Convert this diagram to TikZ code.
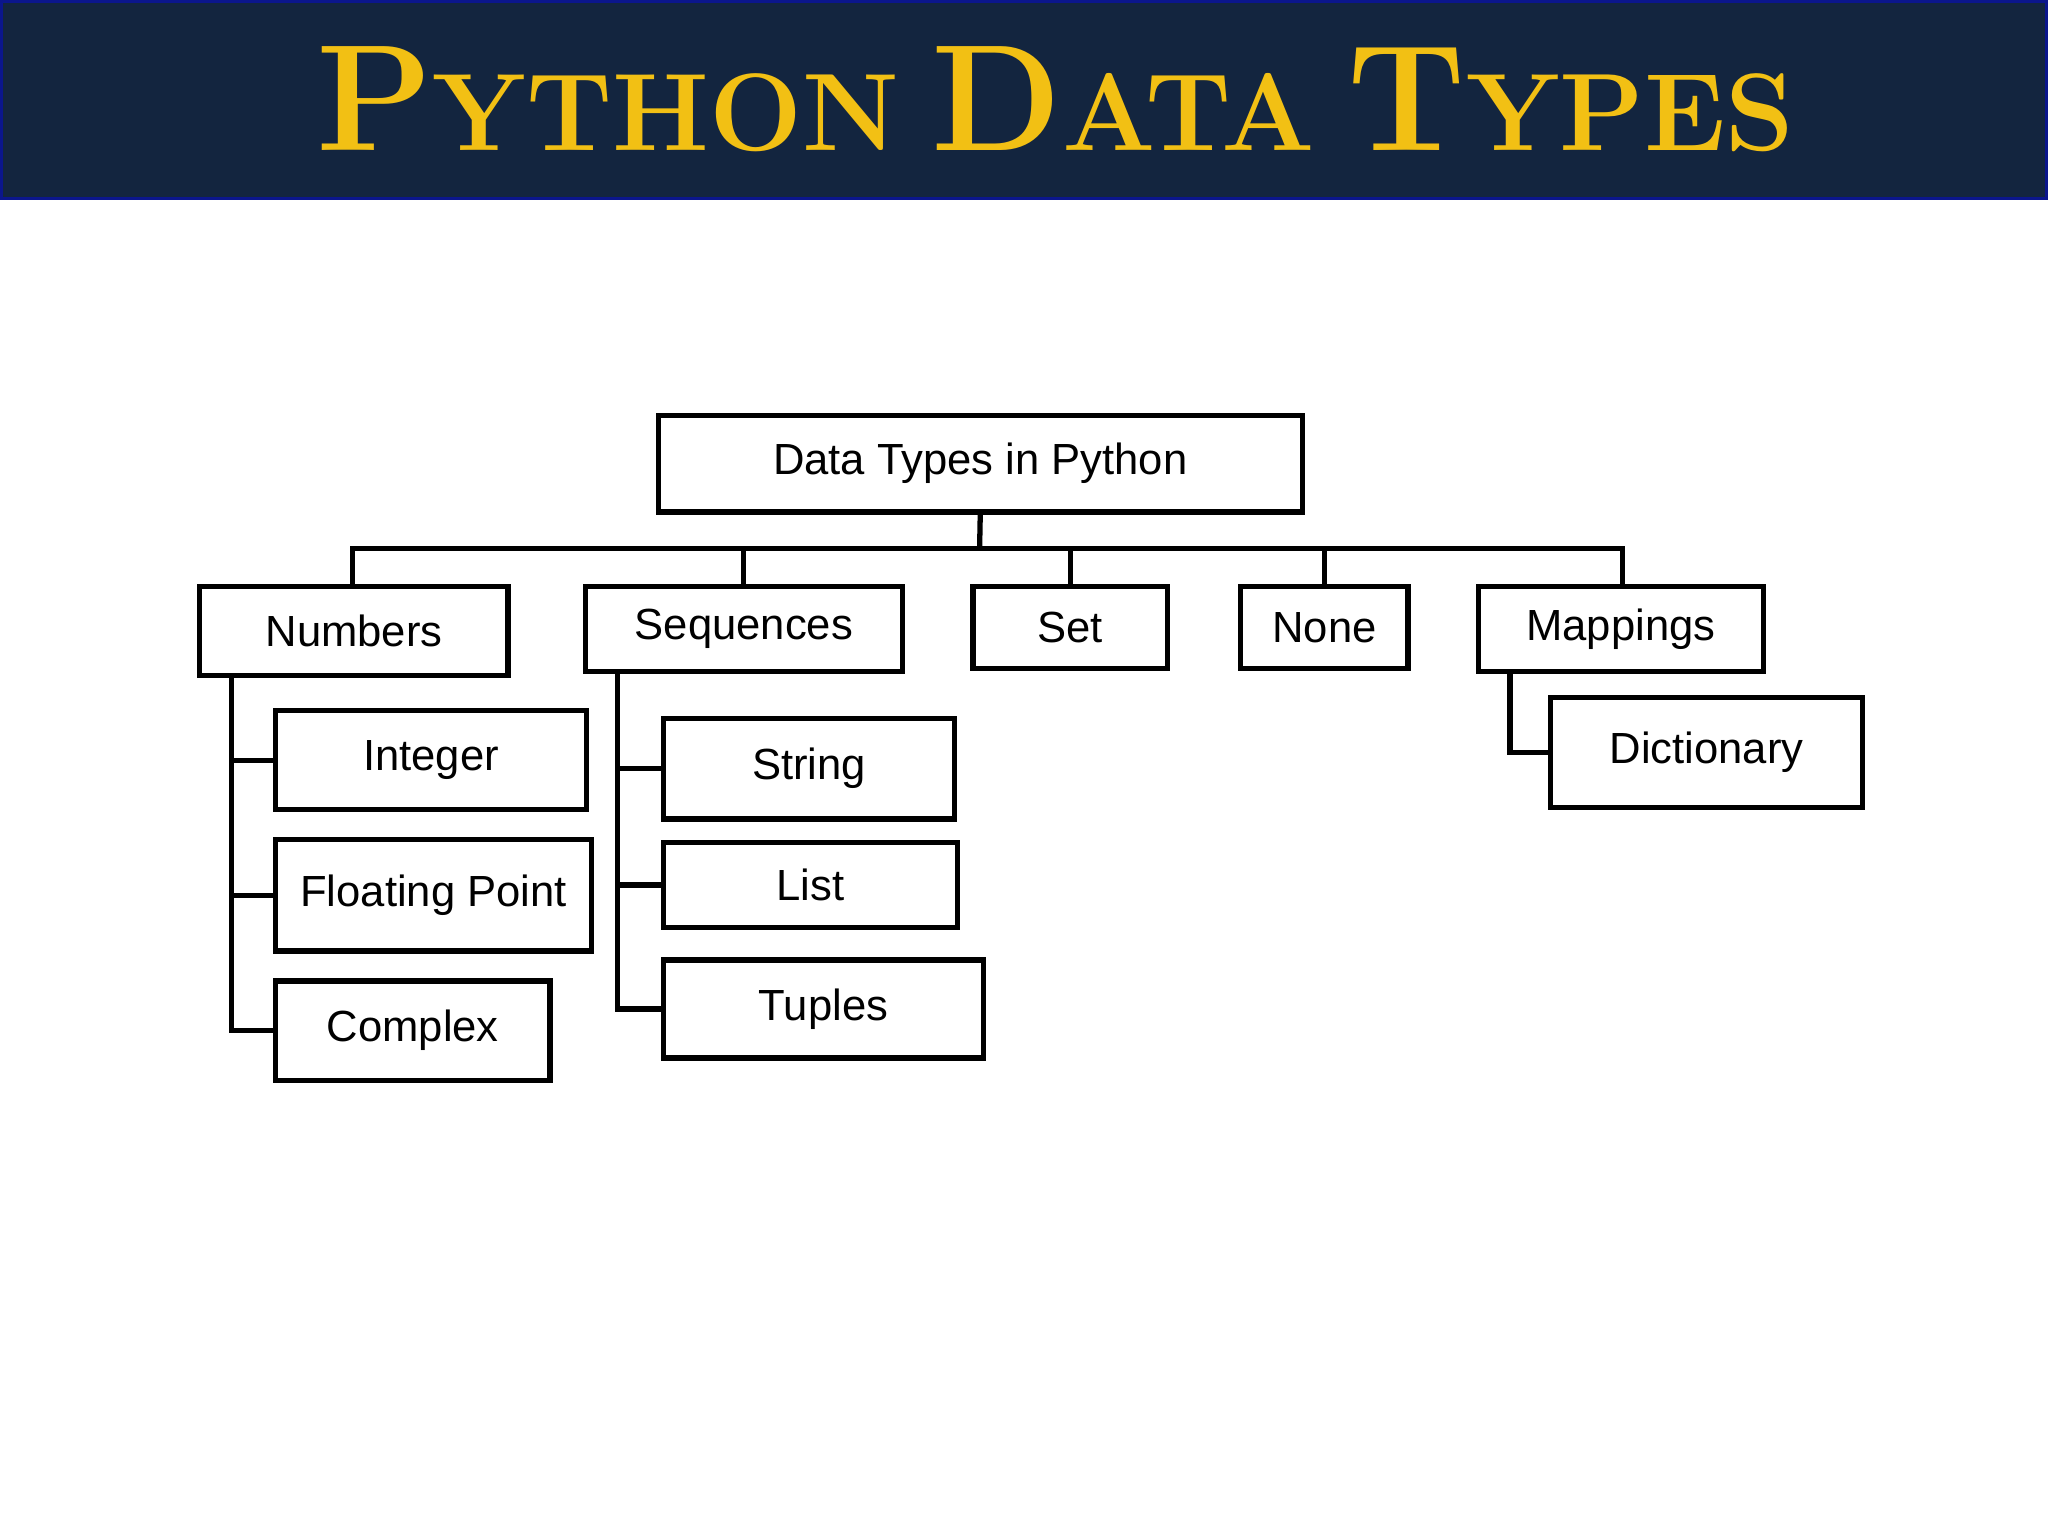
\documentclass[tikz,border=0pt]{standalone}
\usepackage{fontspec}
\setmainfont{Liberation Sans}
\newfontfamily\titlefont{Latin Modern Roman}
\definecolor{navy}{HTML}{13253F}
\definecolor{gold}{HTML}{F2C014}
\begin{document}
\begin{tikzpicture}[x=0.02cm,y=-0.02cm,
  box/.style={draw,line width=2.3pt,inner sep=0pt,font=\fontsize{19}{22}\selectfont},
  conn/.style={line width=2.3pt}]
\useasboundingbox (0,0) rectangle (1568,1176);
\fill[white] (0,0) rectangle (1568,1176);
\draw[fill=navy,draw=blue!40!navy,line width=1.5pt] (1,1) rectangle (1567,152);
\node (title) at (808,76) {\titlefont\bfseries\color{gold}%
{\fontsize{66}{70}\selectfont P}{\fontsize{48}{50}\selectfont YTHON}\hspace{0.5cm}%
{\fontsize{66}{70}\selectfont D}{\fontsize{48}{50}\selectfont ATA}\hspace{0.5cm}%
{\fontsize{66}{70}\selectfont T}{\fontsize{48}{50}\selectfont YPES}};
\newcommand{\bx}[6]{\node[box,minimum width={(#4-#2)*0.02cm},minimum height={(#5-#3)*0.02cm}] (#1) at ({(#2+#4)/2},{(#3+#5)/2}) {#6};}
\bx{root}{504}{318}{997}{392}{Data Types in Python}
\bx{num}{153}{449}{389}{517}{Numbers}
\bx{seq}{448}{449}{691}{514}{Sequences}
\bx{set}{745}{449}{894}{512}{Set}
\bx{none}{950}{449}{1078}{512}{None}
\bx{map}{1132}{449}{1350}{514}{Mappings}
\bx{int}{211}{544}{449}{620}{Integer}
\bx{flt}{211}{643}{453}{728}{Floating Point}
\bx{cpx}{211}{751}{421}{827}{Complex}
\bx{str}{508}{550}{731}{627}{String}
\bx{lst}{508}{645}{733}{710}{List}
\bx{tup}{508}{735}{753}{810}{Tuples}
\bx{dic}{1187}{534}{1426}{618}{Dictionary}
\coordinate (bus) at (750,420);
\draw[conn] (root.south) -- (bus);
\draw[conn] (num.north -| 270,0) |- (bus) -| (map.north -| 1242,0);
\draw[conn] (seq.north) -- (seq.north |- bus);
\draw[conn] (set.north) -- (set.north |- bus);
\draw[conn] (none.north) -- (none.north |- bus);
\draw[conn] (num.south -| 177,0) |- (cpx.west);
\draw[conn] (int.west) -- (int.west -| 177,0);
\draw[conn] (flt.west) -- (flt.west -| 177,0);
\draw[conn] (seq.south -| 473,0) |- (tup.west);
\draw[conn] (str.west) -- (str.west -| 473,0);
\draw[conn] (lst.west) -- (lst.west -| 473,0);
\draw[conn] (map.south -| 1156,0) |- (dic.west);
\end{tikzpicture}
\end{document}
